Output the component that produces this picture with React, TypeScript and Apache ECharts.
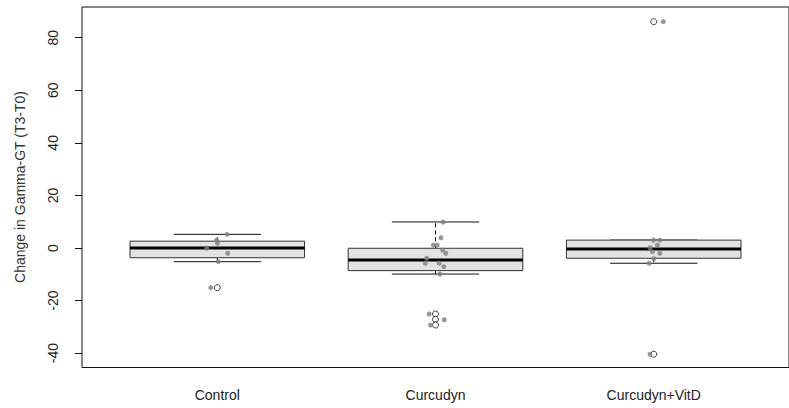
import React, { useEffect, useRef } from "react";
import * as echarts from "echarts";

const categories = ["Control", "Curcudyn", "Curcudyn+VitD"];
const yTicks = [-40, -20, 0, 20, 40, 60, 80];
const yTitle = "Change in Gamma-GT (T3-T0)";

// box statistics
const boxLow = [-5.2, -9.9, -5.8];
const boxQ1 = [-3.7, -8.6, -3.9];
const boxMedian = [0, -4.6, -0.4];
const boxQ3 = [2.6, -0.1, 3.0];
const boxHigh = [5.2, 9.9, 3.0];

// outliers (open circles)
const outlierGroup = [1, 2, 2, 2, 3, 3];
const outlierValue = [-15.1, -25.1, -27.1, -29.3, 86.1, -40.4];

// jittered raw points (grey dots)
const pointX = [
  1.044, 0.997, 1.001, 0.951, 1.048, 1.005, 0.97,
  2.035, 2.025, 1.99, 2.008, 2.033, 2.047, 1.96, 1.953, 2.017, 2.038, 2.02, 1.971, 2.04, 1.977,
  2.999, 3.028, 3.017, 2.983, 2.994, 3.028, 3.001, 2.979, 3.044, 2.983,
];
const pointY = [
  5.2, 3.0, 1.8, -0.1, -2.0, -5.2, -15.1,
  9.9, 3.9, 1.1, 1.1, -0.8, -2.0, -3.9, -5.8, -5.8, -7.1, -9.9, -25.1, -27.3, -29.3,
  3.0, 3.0, 1.1, 0.1, -1.4, -2.0, -4.1, -5.8, 86.1, -40.4,
];

const FONT = "'Liberation Sans', Arial, sans-serif";

export default function App() {
  const ref = useRef<HTMLDivElement>(null);
  useEffect(() => {
    if (!ref.current) return;
    const chart = echarts.init(ref.current, null, { renderer: "svg" });
    const boxData = categories.map((_, i) => [
      i + 1,
      boxLow[i],
      boxQ1[i],
      boxMedian[i],
      boxQ3[i],
      boxHigh[i],
    ]);
    const outliers = outlierGroup.map((g, i) => [g, outlierValue[i]]);
    const points = pointX.map((x, i) => [x, pointY[i]]);

    chart.setOption({
      animation: false,
      grid: { left: 82, top: 7, width: 717, height: 360.5, show: true, borderColor: "#111", borderWidth: 1, backgroundColor: "transparent" },
      xAxis: {
        type: "value",
        min: 0.38,
        max: 3.62,
        splitLine: { show: false },
        axisLine: { show: false },
        axisTick: { show: true, length: 7, lineStyle: { color: "#111" }, customValues: [1, 2, 3] },
        axisLabel: {
          customValues: [1, 2, 3],
          formatter: (v: number) => categories[Math.round(v) - 1] ?? "",
          color: "#222",
          fontFamily: FONT,
          fontSize: 14,
          margin: 20,
        },
      },
      yAxis: {
        type: "value",
        min: -45.45,
        max: 91.67,
        splitLine: { show: false },
        axisLine: { show: false },
        axisTick: { show: true, length: 7, lineStyle: { color: "#111" }, customValues: yTicks },
        axisLabel: {
          customValues: yTicks,
          rotate: 90,
          color: "#222",
          fontFamily: FONT,
          fontSize: 14,
          margin: 22,
        },
      },
      graphic: [
        {
          type: "text",
          x: 20,
          y: 187,
          rotation: Math.PI / 2,
          style: {
            text: yTitle,
            fill: "#333",
            font: `14px ${FONT}`,
            align: "center",
            verticalAlign: "middle",
          },
        },
      ],
      series: [
        {
          type: "custom",
          data: boxData,
          encode: { x: 0, y: [1, 2, 3, 4, 5] },
          renderItem: (params: any, api: any) => {
            const x = api.value(0);
            const low = api.value(1);
            const q1 = api.value(2);
            const med = api.value(3);
            const q3 = api.value(4);
            const high = api.value(5);
            const hb = 0.4;
            const hc = 0.2;
            const c = (a: number, b: number) => api.coord([a, b]);
            const pTL = c(x - hb, q3);
            const pBR = c(x + hb, q1);
            const mid = c(x, q3)[0];
            const children: any[] = [];
            const stroke = "#111";
            if (high > q3) {
              children.push({
                type: "line",
                shape: { x1: mid, y1: c(x, q3)[1], x2: mid, y2: c(x, high)[1] },
                style: { stroke, lineWidth: 1, lineDash: [4, 3] },
              });
            }
            if (low < q1) {
              children.push({
                type: "line",
                shape: { x1: mid, y1: c(x, q1)[1], x2: mid, y2: c(x, low)[1] },
                style: { stroke, lineWidth: 1, lineDash: [4, 3] },
              });
            }
            [high, low].forEach((v) => {
              children.push({
                type: "line",
                shape: { x1: c(x - hc, v)[0], y1: c(x, v)[1], x2: c(x + hc, v)[0], y2: c(x, v)[1] },
                style: { stroke, lineWidth: 1 },
              });
            });
            children.push({
              type: "rect",
              shape: { x: pTL[0], y: pTL[1], width: pBR[0] - pTL[0], height: pBR[1] - pTL[1] },
              style: { fill: "#e3e3e3", stroke: "#333", lineWidth: 1 },
            });
            children.push({
              type: "line",
              shape: { x1: pTL[0], y1: c(x, med)[1], x2: pBR[0], y2: c(x, med)[1] },
              style: { stroke: "#000", lineWidth: 3 },
            });
            return { type: "group", children };
          },
          z: 2,
        },
        {
          type: "scatter",
          data: outliers,
          symbol: "circle",
          symbolSize: 6,
          itemStyle: { color: "#fff", borderColor: "#111", borderWidth: 1 },
          z: 3,
        },
        {
          type: "scatter",
          data: points,
          symbol: "circle",
          symbolSize: 5,
          itemStyle: { color: "#808080" },
          z: 4,
        },
      ],
    });
    return () => chart.dispose();
  }, []);
  return (
    <div
      ref={ref}
      style={{ position: "fixed", left: 0, top: 0, width: 789, height: 408, background: "#fff" }}
    />
  );
}
